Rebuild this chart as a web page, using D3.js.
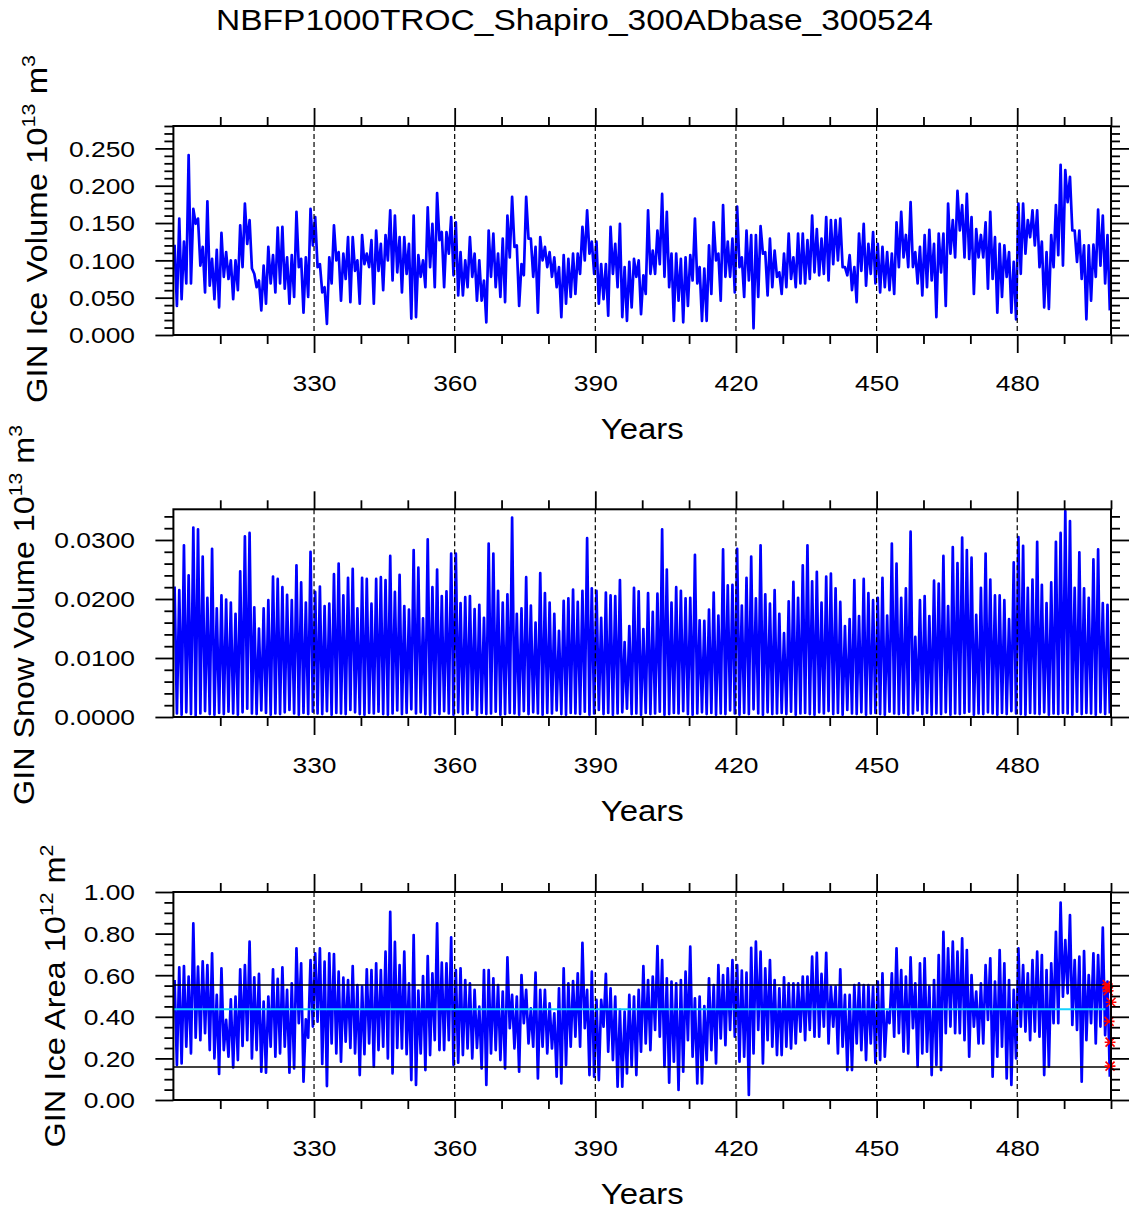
<!DOCTYPE html>
<html lang="en">
<head>
<meta charset="UTF-8">
<title>NBFP1000TROC_Shapiro_300ADbase_300524</title>
<script src="https://cdn.jsdelivr.net/npm/d3@7"></script>
<style>
  body { margin: 0; background: #fff; }
  svg { font-family: "Liberation Sans", Arial, Helvetica, sans-serif; }
</style>
</head>
<body>
<div id="chart"></div>
<script>
// ---- data (one max and one min per model year 300..499) ----
const firstYear = 300;
const yearTicks = [330, 360, 390, 420, 450, 480];
const volTicks = [0, 0.05, 0.10, 0.15, 0.20, 0.25];
const snowTicks = [0, 0.01, 0.02, 0.03];
const areaTicks = [0, 0.2, 0.4, 0.6, 0.8, 1.0];

// GIN ice volume (10^13 m^3)
const iceVolHi = [
  .121,.156,.125,.241,.169,.156,.118,.179,.102,.114, .137,.111,.100,.100,.147,.176,.154,.082,.073,.093,
  .118,.107,.144,.145,.104,.107,.165,.102,.104,.169, .158,.095,.064,.104,.147,.111,.109,.131,.131,.100,
  .134,.109,.127,.140,.122,.134,.167,.160,.131,.131, .122,.160,.107,.100,.171,.149,.190,.138,.138,.158,
  .151,.111,.100,.131,.109,.100,.073,.140,.136,.109, .129,.160,.185,.120,.095,.185,.129,.118,.131,.118,
  .111,.104,.091,.107,.102,.109,.109,.145,.167,.125, .125,.095,.095,.145,.122,.149,.091,.098,.102,.100,
  .080,.167,.113,.140,.189,.165,.109,.109,.102,.104, .107,.156,.091,.089,.120,.151,.109,.174,.125,.129,
  .172,.104,.140,.134,.134,.146,.111,.129,.113,.084, .109,.136,.104,.136,.136,.127,.160,.142,.129,.158,
  .154,.154,.156,.091,.107,.091,.136,.149,.122,.138, .122,.118,.111,.109,.151,.165,.134,.178,.111,.118,
  .134,.141,.122,.136,.136,.176,.154,.193,.174,.189, .158,.142,.134,.151,.165,.131,.122,.120,.111,.098,
  .176,.176,.154,.167,.167,.125,.111,.134,.174,.228, .221,.212,.140,.140,.120,.120,.121,.168,.160,.134
];
const iceVolLo = [
  .039,.048,.069,.069,.149,.093,.057,.066,.048,.037, .078,.075,.048,.060,.091,.122,.089,.064,.033,.042,
  .069,.057,.069,.062,.042,.051,.091,.030,.051,.120, .091,.057,.015,.069,.100,.046,.075,.044,.086,.042,
  .095,.091,.042,.086,.060,.100,.073,.084,.057,.082, .022,.024,.078,.064,.091,.064,.127,.064,.109,.080,
  .053,.053,.064,.078,.046,.046,.017,.078,.064,.051, .044,.104,.118,.039,.080,.129,.078,.030,.100,.091,
  .078,.064,.024,.042,.051,.055,.082,.100,.109,.082, .042,.048,.026,.082,.064,.024,.019,.037,.078,.028,
  .055,.082,.082,.095,.078,.064,.019,.046,.017,.039, .073,.069,.019,.019,.055,.100,.046,.078,.078,.057,
  .091,.051,.073,.009,.051,.109,.053,.064,.078,.055, .064,.075,.064,.069,.069,.075,.084,.080,.082,.073,
  .095,.100,.091,.080,.060,.044,.086,.066,.082,.069, .057,.064,.060,.055,.091,.104,.091,.091,.069,.053,
  .064,.073,.024,.084,.039,.109,.104,.140,.104,.102, .055,.104,.104,.062,.075,.030,.051,.078,.030,.021,
  .082,.109,.131,.120,.091,.037,.035,.091,.107,.093, .178,.140,.098,.075,.021,.046,.078,.093,.069,.033
];

// GIN snow volume (10^13 m^3)
const snowHi = [
  .0221,.0215,.0291,.0240,.0321,.0318,.0272,.0202,.0285,.0184, .0206,.0199,.0194,.0175,.0247,.0306,.0312,.0186,.0150,.0184,
  .0198,.0238,.0234,.0220,.0207,.0198,.0257,.0228,.0194,.0280, .0212,.0221,.0188,.0192,.0242,.0260,.0206,.0236,.0251,.0184,
  .0236,.0234,.0192,.0234,.0237,.0232,.0273,.0212,.0241,.0188, .0182,.0283,.0253,.0167,.0301,.0220,.0250,.0205,.0213,.0277,
  .0277,.0193,.0203,.0205,.0183,.0190,.0168,.0294,.0277,.0214, .0194,.0208,.0338,.0175,.0184,.0237,.0189,.0160,.0244,.0210,
  .0194,.0175,.0146,.0197,.0201,.0216,.0195,.0214,.0303,.0218, .0214,.0168,.0211,.0206,.0205,.0232,.0127,.0154,.0219,.0213,
  .0149,.0210,.0178,.0209,.0318,.0250,.0194,.0220,.0214,.0201, .0202,.0275,.0164,.0163,.0182,.0211,.0172,.0284,.0223,.0224,
  .0285,.0189,.0236,.0272,.0201,.0291,.0208,.0192,.0215,.0175, .0142,.0196,.0229,.0202,.0257,.0291,.0230,.0246,.0194,.0238,
  .0243,.0218,.0195,.0154,.0166,.0232,.0171,.0234,.0210,.0198, .0202,.0236,.0172,.0294,.0260,.0202,.0218,.0314,.0136,.0198,
  .0205,.0171,.0231,.0226,.0273,.0188,.0288,.0261,.0304,.0283, .0270,.0173,.0219,.0277,.0233,.0206,.0206,.0198,.0166,.0262,
  .0305,.0290,.0219,.0233,.0297,.0224,.0193,.0228,.0297,.0312, .0349,.0332,.0219,.0279,.0218,.0202,.0267,.0284,.0193,.0190
];
const snowLo = [
  .0006,.0004,.0008,.0005,.0003,.0006,.0010,.0005,.0004,.0007, .0005,.0009,.0006,.0004,.0008,.0014,.0006,.0005,.0011,.0007,
  .0004,.0006,.0005,.0008,.0012,.0006,.0004,.0007,.0005,.0009, .0006,.0005,.0010,.0004,.0007,.0006,.0005,.0012,.0008,.0005,
  .0004,.0007,.0006,.0009,.0005,.0004,.0006,.0011,.0005,.0007, .0013,.0006,.0008,.0005,.0004,.0007,.0005,.0010,.0006,.0004,
  .0008,.0005,.0006,.0012,.0004,.0007,.0005,.0006,.0009,.0004, .0005,.0007,.0006,.0004,.0010,.0005,.0008,.0006,.0004,.0007,
  .0006,.0011,.0005,.0004,.0007,.0006,.0005,.0009,.0004,.0006, .0012,.0005,.0007,.0004,.0006,.0008,.0014,.0005,.0006,.0004,
  .0007,.0005,.0006,.0009,.0004,.0005,.0007,.0006,.0010,.0005, .0004,.0006,.0008,.0005,.0007,.0004,.0006,.0005,.0011,.0006,
  .0004,.0007,.0005,.0013,.0006,.0004,.0008,.0005,.0006,.0007, .0005,.0009,.0004,.0006,.0007,.0005,.0004,.0008,.0006,.0010,
  .0005,.0007,.0004,.0012,.0006,.0005,.0008,.0004,.0006,.0007, .0005,.0004,.0009,.0006,.0005,.0007,.0004,.0006,.0011,.0005,
  .0007,.0004,.0006,.0005,.0008,.0004,.0006,.0005,.0007,.0009, .0004,.0006,.0005,.0008,.0006,.0004,.0007,.0005,.0010,.0006,
  .0005,.0004,.0007,.0006,.0005,.0008,.0004,.0006,.0005,.0007, .0006,.0004,.0009,.0005,.0007,.0006,.0004,.0008,.0005,.0006
];

// GIN ice area (10^12 m^2)
const areaHi = [
  .577,.638,.644,.593,.849,.641,.667,.649,.705,.505, .633,.385,.484,.497,.628,.649,.761,.590,.606,.473,
  .497,.628,.582,.638,.529,.561,.729,.657,.388,.673, .705,.729,.665,.705,.702,.617,.588,.577,.644,.553,
  .545,.628,.625,.657,.625,.713,.905,.760,.649,.713, .561,.793,.526,.596,.692,.609,.849,.660,.657,.782,
  .625,.633,.577,.561,.529,.449,.625,.625,.585,.553, .521,.686,.505,.497,.601,.529,.441,.612,.529,.529,
  .465,.417,.537,.633,.561,.572,.609,.756,.529,.617, .481,.481,.606,.537,.497,.433,.425,.505,.497,.529,
  .644,.577,.593,.740,.673,.585,.569,.561,.577,.617, .737,.489,.497,.452,.585,.553,.649,.601,.633,.673,
  .649,.622,.612,.732,.761,.713,.633,.673,.577,.537, .590,.561,.561,.561,.593,.593,.689,.708,.606,.708,
  .545,.545,.628,.505,.505,.553,.561,.553,.553,.545, .569,.609,.425,.609,.729,.625,.593,.686,.561,.657,
  .681,.545,.577,.697,.809,.729,.761,.713,.777,.721, .601,.521,.561,.649,.681,.569,.721,.657,.577,.529,
  .729,.649,.609,.673,.713,.697,.625,.657,.809,.949, .769,.889,.673,.689,.716,.601,.705,.697,.829,.569
];
const areaLo = [
  .168,.176,.256,.224,.300,.288,.321,.240,.200,.125, .240,.208,.157,.192,.260,.288,.200,.240,.136,.131,
  .256,.208,.224,.256,.131,.152,.369,.088,.300,.353, .377,.173,.067,.272,.224,.184,.280,.250,.224,.120,
  .220,.272,.160,.240,.256,.200,.128,.250,.248,.220, .096,.072,.224,.144,.216,.288,.240,.240,.288,.168,
  .179,.216,.248,.200,.250,.152,.072,.224,.240,.192, .152,.345,.248,.136,.369,.272,.256,.104,.256,.224,
  .248,.112,.080,.168,.256,.304,.256,.345,.120,.112, .096,.353,.232,.192,.064,.064,.128,.160,.120,.232,
  .272,.240,.337,.304,.160,.083,.184,.048,.136,.288, .208,.080,.080,.192,.240,.176,.296,.264,.337,.304,
  .184,.208,.024,.224,.337,.176,.288,.256,.216,.216, .256,.248,.272,.329,.288,.337,.304,.304,.353,.272,
  .353,.224,.256,.144,.144,.272,.240,.192,.272,.179, .192,.208,.369,.304,.321,.232,.224,.345,.160,.224,
  .232,.120,.168,.144,.321,.353,.321,.321,.288,.208, .353,.272,.272,.385,.112,.208,.256,.104,.072,.200,
  .353,.329,.288,.329,.304,.120,.160,.369,.369,.497, .513,.361,.337,.088,.288,.369,.272,.353,.312,.112
];

// reference levels and end-point markers of the ice area panel
const areaBands = [0.553, 0.159];
const areaMean = 0.436;
const areaMeanEnd = 498.8;
const markerYears = [499.2, 499.3, 499.4, 500.0, 499.6, 499.8, 499.8];
const markerValues = [0.555, 0.540, 0.525, 0.470, 0.378, 0.278, 0.163];

// ---- layout ----
const W = 1137, H = 1211;
const plotLeft = 173.4, plotRight = 1111;

const panels = [
  { top: 126, bottom: 335, domain: [0, 0.28], ticks: volTicks, minorStep: 0.01, fmt: d3.format(".3f"),
    hi: iceVolHi, lo: iceVolLo, labelMain: "GIN Ice Volume 10", sup1: "13", unit: " m", sup2: "3",
    labelX: 47, labelY: 229, labelLen: 348 },
  { top: 509.3, bottom: 717, domain: [0, 0.0352], ticks: snowTicks, minorStep: 0.002, fmt: d3.format(".4f"),
    hi: snowHi, lo: snowLo, labelMain: "GIN Snow Volume 10", sup1: "13", unit: " m", sup2: "3",
    labelX: 34, labelY: 615, labelLen: 380 },
  { top: 892, bottom: 1100, domain: [0, 1.0], ticks: areaTicks, minorStep: 0.05, fmt: d3.format(".2f"),
    hi: areaHi, lo: areaLo, labelMain: "GIN Ice Area 10", sup1: "12", unit: " m", sup2: "2",
    labelX: 65, labelY: 996, labelLen: 303 }
];

const svg = d3.select("#chart").append("svg")
  .attr("width", W).attr("height", H);

// stretch a text element horizontally to a given length (NCL fonts run wide)
function stretch(sel, len) {
  sel.each(function () {
    const w = this.getComputedTextLength();
    const prev = d3.select(this).attr("transform") || "";
    d3.select(this).attr("transform", prev + ` scale(${len / w},1)`);
  });
}

// title
svg.append("text")
  .attr("x", 0).attr("y", 0)
  .attr("transform", "translate(574.5,30)")
  .attr("text-anchor", "middle")
  .attr("font-size", 29)
  .text("NBFP1000TROC_Shapiro_300ADbase_300524")
  .call(stretch, 717);

const x = d3.scaleLinear().domain([firstYear, 500]).range([plotLeft, plotRight]);
const yearMinor = d3.range(310, 501, 10).filter(v => !yearTicks.includes(v));

function series(hi, lo) {
  const pts = [];
  hi.forEach((h, i) => {
    pts.push({ x: firstYear + i + 0.25, v: h });
    pts.push({ x: firstYear + i + 0.75, v: lo[i] });
  });
  return pts;
}

panels.forEach((p, idx) => {
  const y = d3.scaleLinear().domain(p.domain).range([p.bottom, p.top]);
  const g = svg.append("g");
  const minor = d3.range(0, p.domain[1] + 1e-9, p.minorStep)
    .filter(v => !p.ticks.some(t => Math.abs(t - v) < p.minorStep / 4));

  const clipId = "clip" + idx;
  g.append("clipPath").attr("id", clipId).append("rect")
    .attr("x", plotLeft).attr("y", p.top)
    .attr("width", plotRight - plotLeft).attr("height", p.bottom - p.top);

  // data line
  const line = d3.line().x(d => x(d.x)).y(d => y(d.v));
  g.append("path")
    .datum(series(p.hi, p.lo))
    .attr("clip-path", `url(#${clipId})`)
    .attr("fill", "none")
    .attr("stroke", "#0000ff")
    .attr("stroke-width", 2.7)
    .attr("stroke-linejoin", "round")
    .attr("d", line);

  // ice area extras
  if (idx === 2) {
    g.selectAll(".band").data(areaBands).join("line")
      .attr("x1", plotLeft).attr("x2", plotRight)
      .attr("y1", d => y(d)).attr("y2", d => y(d))
      .attr("stroke", "#000").attr("stroke-width", 1.5);
    g.append("line")
      .attr("x1", x(firstYear)).attr("x2", x(areaMeanEnd))
      .attr("y1", y(areaMean)).attr("y2", y(areaMean))
      .attr("stroke", "#14d2ff").attr("stroke-width", 2);
  }

  // dashed year grid
  g.selectAll(".grid").data(yearTicks).join("line")
    .attr("x1", d => x(d)).attr("x2", d => x(d))
    .attr("y1", p.top).attr("y2", p.bottom)
    .attr("stroke", "#000").attr("stroke-width", 1.2)
    .attr("stroke-dasharray", "5,3");

  if (idx === 2) {
    const r = 4.5;
    g.selectAll(".mark").data(markerValues).join("path")
      .attr("transform", (d, i) => `translate(${x(markerYears[i])},${y(d)})`)
      .attr("d", `M${-r},${-r}L${r},${r}M${-r},${r}L${r},${-r}M${-r * 1.2},0L${r * 1.2},0`)
      .attr("stroke", "#ff0000").attr("stroke-width", 1.6).attr("fill", "none");
  }

  // axes: outward ticks on all four sides
  const tickStyle = a => {
    a.select(".domain").remove();
    a.selectAll("line").attr("stroke", "#000").attr("stroke-width", 1.8);
  };
  const addAxis = (axis, tr) => g.append("g").attr("transform", tr).call(axis).call(tickStyle);

  addAxis(d3.axisBottom(x).tickValues(yearMinor).tickSize(9).tickSizeOuter(0).tickFormat(""), `translate(0,${p.bottom})`);
  addAxis(d3.axisTop(x).tickValues(yearMinor).tickSize(9).tickSizeOuter(0).tickFormat(""), `translate(0,${p.top})`);
  addAxis(d3.axisTop(x).tickValues(yearTicks).tickSize(18).tickSizeOuter(0).tickFormat(""), `translate(0,${p.top})`);
  const xb = addAxis(d3.axisBottom(x).tickValues(yearTicks).tickSize(18).tickSizeOuter(0).tickFormat(d3.format("d")), `translate(0,${p.bottom})`);
  xb.selectAll("text")
    .attr("y", 0).attr("dy", null)
    .attr("transform", "translate(0,56)")
    .attr("font-size", 22).attr("fill", "#000")
    .call(stretch, 44);

  addAxis(d3.axisLeft(y).tickValues(minor).tickSize(9).tickSizeOuter(0).tickFormat(""), `translate(${plotLeft},0)`);
  addAxis(d3.axisRight(y).tickValues(minor).tickSize(9).tickSizeOuter(0).tickFormat(""), `translate(${plotRight},0)`);
  addAxis(d3.axisRight(y).tickValues(p.ticks).tickSize(18).tickSizeOuter(0).tickFormat(""), `translate(${plotRight},0)`);
  const yl = addAxis(d3.axisLeft(y).tickValues(p.ticks).tickSize(18).tickSizeOuter(0).tickFormat(p.fmt), `translate(${plotLeft},0)`);
  yl.selectAll("text")
    .attr("x", 0).attr("dy", "0.36em")
    .attr("transform", `translate(${135 - plotLeft},0) scale(1.2,1)`)
    .attr("font-size", 22).attr("fill", "#000");

  // frame
  g.append("rect")
    .attr("x", plotLeft).attr("y", p.top)
    .attr("width", plotRight - plotLeft).attr("height", p.bottom - p.top)
    .attr("fill", "none").attr("stroke", "#000").attr("stroke-width", 2);

  // x axis title
  svg.append("text")
    .attr("x", 0).attr("y", 0)
    .attr("transform", `translate(${(plotLeft + plotRight) / 2},${p.bottom + 104})`)
    .attr("text-anchor", "middle").attr("font-size", 29)
    .text("Years")
    .call(stretch, 83);

  // y axis title with superscripts
  const yt = svg.append("text")
    .attr("x", 0).attr("y", 0)
    .attr("transform", `translate(${p.labelX},${p.labelY}) rotate(-90)`)
    .attr("text-anchor", "middle").attr("font-size", 29);
  yt.append("tspan").text(p.labelMain);
  yt.append("tspan").attr("font-size", 19).attr("dy", -12).text(p.sup1);
  yt.append("tspan").attr("dy", 12).text(p.unit);
  yt.append("tspan").attr("font-size", 19).attr("dy", -12).text(p.sup2);
  yt.call(stretch, p.labelLen);
});
</script>
</body>
</html>
